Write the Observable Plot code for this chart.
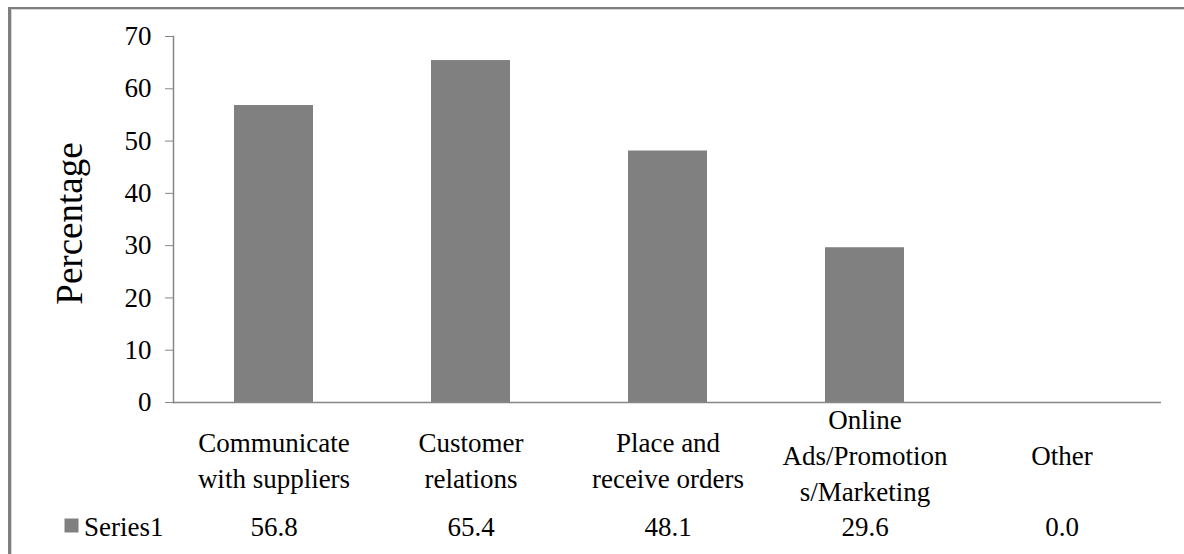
<!DOCTYPE html>
<html>
<head>
<meta charset="utf-8">
<script src="https://cdn.jsdelivr.net/npm/d3@7"></script>
<script src="https://cdn.jsdelivr.net/npm/@observablehq/plot@0.6"></script>
<style>
  html, body { margin: 0; padding: 0; background: #fff; overflow: hidden; }
  #wrap { position: relative; width: 1184px; height: 554px; }
  /* outer chart border (top and left edges fall inside the window) */
  #border {
    position: absolute; left: 8px; top: 7px; width: 2000px; height: 2000px;
    border-left: 3px solid #7f7f7f; border-top: 2px solid #7f7f7f;
    box-shadow: inset 1px 1px 0 #d6d6d6;
  }
  #chart { position: absolute; left: 0; top: 0; }
  #chart svg { font-family: "Liberation Serif", "Times New Roman", serif; background: transparent; color: #000; }
</style>
</head>
<body>
<div id="wrap">
  <div id="border"></div>
  <div id="chart"></div>
</div>
<script>
// Uses of the internet reported by respondents (percentage)
const categories = [
  "Communicate with suppliers",
  "Customer relations",
  "Place and receive orders",
  "Online Ads/Promotions/Marketing",
  "Other"
];
const tickLabels = [
  "Communicate\nwith suppliers",
  "Customer\nrelations",
  "Place and\nreceive orders",
  "Online\nAds/Promotion\ns/Marketing",
  "Other"
];
const values = [56.8, 65.4, 48.1, 29.6, 0.0];
const yTicks = [0, 10, 20, 30, 40, 50, 60, 70];
const seriesName = "Series1";
const yTitle = "Percentage";

const data = categories.map((c, i) => ({category: c, label: tickLabels[i], value: values[i]}));
const lineCount = d => d.label.split("\n").length;

const axisGray = "#868686";
const barGray = "#808080";
const fontFamily = "Liberation Serif, Times New Roman, serif";

const labelStyle = {x: "category", text: "label", frameAnchor: "bottom", lineAnchor: "middle", lineHeight: 1.33, fontSize: 27, fontFamily, fill: "#000"};

const chart = Plot.plot({
  width: 1184,
  height: 554,
  marginLeft: 173,
  marginRight: 23,
  marginTop: 36,
  marginBottom: 152,
  x: {type: "band", domain: categories, paddingInner: 0.6, paddingOuter: 0.3, axis: null},
  y: {domain: [0, 70], axis: null},
  marks: [
    Plot.barY(data, {x: "category", y: "value", fill: barGray}),
    Plot.frame({anchor: "left", stroke: axisGray, strokeWidth: 1.5}),
    Plot.ruleY([0], {stroke: axisGray, strokeWidth: 1.5}),
    Plot.axisY({ticks: yTicks, tickSize: 8, tickPadding: 14, stroke: axisGray, fill: "#000", fontSize: 27, fontFamily, label: null, tickFormat: d => String(d)}),
    // y-axis title
    Plot.text([yTitle], {frameAnchor: "left", dx: -103, dy: 4, rotate: -90, textAnchor: "middle", lineAnchor: "middle", fontSize: 37, fontFamily, fill: "#000"}),
    // category labels under the axis (two-line labels sit slightly lower)
    Plot.text(data, {...labelStyle, filter: d => lineCount(d) === 2, dy: 56}),
    Plot.text(data, {...labelStyle, filter: d => lineCount(d) !== 2, dy: 51}),
    // data table row
    Plot.dot([seriesName], {frameAnchor: "bottom-left", dx: -102, dy: 123, symbol: "square", r: 7.9, fill: barGray, stroke: null}),
    Plot.text([seriesName], {frameAnchor: "bottom-left", dx: -10, dy: 125, textAnchor: "end", lineAnchor: "middle", fontSize: 27, fontFamily, fill: "#000"}),
    Plot.text(data, {x: "category", text: d => d.value.toFixed(1), frameAnchor: "bottom", dy: 125, lineAnchor: "middle", fontSize: 27, fontFamily, fill: "#000"})
  ]
});

document.getElementById("chart").appendChild(chart);
</script>
</body>
</html>
